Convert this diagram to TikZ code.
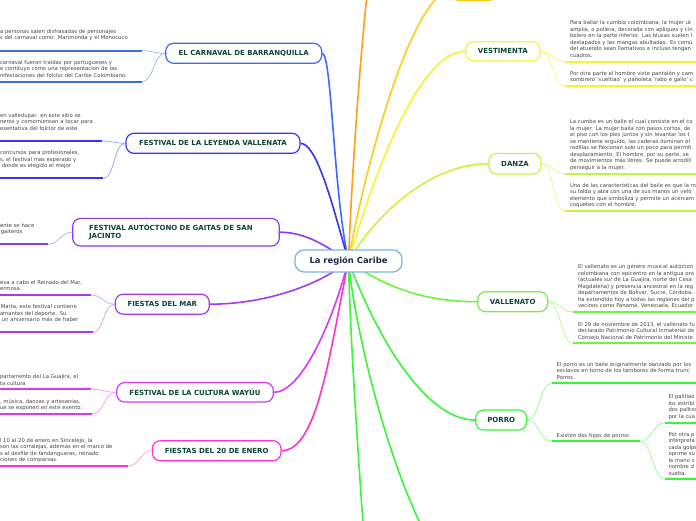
\documentclass[tikz,border=0pt]{standalone}
\usepackage{fontspec}
\setmainfont{DejaVu Sans}
\usetikzlibrary{backgrounds}
\definecolor{cCarn}{HTML}{3B6CF5}
\definecolor{cLey}{HTML}{3535F5}
\definecolor{cGai}{HTML}{8A3BF5}
\definecolor{cMar}{HTML}{A43BF2}
\definecolor{cWay}{HTML}{D53BF5}
\definecolor{cEne}{HTML}{FF33CC}
\definecolor{cOra}{HTML}{FF9F1A}
\definecolor{cGold}{HTML}{FFCC1A}
\definecolor{cVes}{HTML}{F5F52E}
\definecolor{cDan}{HTML}{C8F53B}
\definecolor{cVal}{HTML}{6EF53B}
\definecolor{cPor}{HTML}{3BF53B}
\definecolor{cRoot}{HTML}{78B4E2}
\definecolor{lbl}{HTML}{0D4536}
\definecolor{rootTxt}{HTML}{1A2B4C}
\definecolor{txt}{HTML}{444444}
\newcommand\myl[1]{\mbox{#1}}
\begin{document}
\begin{tikzpicture}[x=1pt,y=-1pt,
  topic/.style={draw, line width=1.2pt, fill=white, rounded corners=8pt, inner sep=0pt, text=lbl,
    font=\fontsize{7}{7.7}\selectfont\bfseries},
  rootst/.style={draw=cRoot, line width=1.2pt, fill=white, rounded corners=9pt, inner sep=0pt,
    minimum width=107pt, minimum height=22pt, text=rootTxt, font=\fontsize{8.4}{9}\selectfont\bfseries},
  leaf/.style={inner xsep=5pt, inner ysep=2.3pt, outer sep=0pt, text width=#1, align=left, text=txt,
    font=\fontsize{5.3}{6.5}\selectfont},
  ul/.style={line width=1.8pt},
  br/.style={line width=1.6pt},
  tw/.style={line width=0.7pt}]
\useasboundingbox (0,0) rectangle (696,520);

% central and main topics
\node[rootst] (root) at (348.5,261) {La región Caribe};
\node[topic, draw=cCarn, minimum width=156pt, minimum height=20pt] (carn) at (243.7,53.3) {EL CARNAVAL DE BARRANQUILLA};
\node[topic, draw=cLey, minimum width=174pt, minimum height=20pt] (ley) at (213,143.3) {FESTIVAL DE LA LEYENDA VALLENATA};
\node[topic, draw=cGai, minimum height=27.7pt, text width=174pt, inner xsep=16.3pt, align=left] (gai) at (176,232.2) {FESTIVAL AUTÓCTONO DE GAITAS DE SAN\\JACINTO};
\node[topic, draw=cMar, minimum width=94pt, minimum height=20pt] (mar) at (162.3,304.2) {FIESTAS DEL MAR};
\node[topic, draw=cWay, minimum width=156.6pt, minimum height=19.5pt] (way) at (195,392.3) {FESTIVAL DE LA CULTURA WAYÚU};
\node[topic, draw=cEne, minimum width=128.7pt, minimum height=20pt] (ene) at (216.7,450.7) {FIESTAS DEL 20 DE ENERO};
\node[topic, draw=cGold, minimum width=45.7pt, minimum height=20pt] (topn) at (474,-9.5) {};
\node[topic, draw=cVes, minimum width=74.3pt, minimum height=19.3pt] (ves) at (502.8,51.3) {VESTIMENTA};
\node[topic, draw=cDan, minimum width=52pt, minimum height=20.7pt] (dan) at (515,163.7) {DANZA};
\node[topic, draw=cVal, minimum width=70pt, minimum height=20pt] (val) at (512.7,301.7) {VALLENATO};
\node[topic, draw=cPor, minimum width=51pt, minimum height=20pt] (por) at (501.2,420) {PORRO};
\coordinate (o1) at (367,-5);
\coordinate (gb1) at (363,523);
\coordinate (gb2) at (420,523);

% left leaves
\node[leaf=136.7pt, anchor=south east] (k1) at (141.7,50.7) {\myl{a personas salen disfrasadas de personajes}\\\myl{s del carnaval como: Marimonda y el Monocuco}\\\strut};
\node[leaf=137pt, anchor=south east] (k2) at (142,81.7) {\myl{carnaval fueron traidas por portugueses y}\\\myl{e contituyo como una representacion de las}\\\myl{nifestaciones del folclor del Caribe Colombiano.}\strut};
\node[leaf=96.7pt, anchor=south east] (l1) at (101.7,141) {\myl{en valledupar. en este sitio se}\\\myl{neros y comomiensan a tocar para}\\\myl{esentativa del folclor de este}\\\strut};
\node[leaf=98pt, anchor=south east] (l2) at (103,178.3) {\myl{concursos para profesionales,}\\\myl{s, el festival mas esperado y}\\\myl{\ donde es elegido el mejor}\\\strut};
\node[leaf=43pt, anchor=south east] (g1) at (48,244.3) {\myl{ente se hace}\\\myl{\,gaiteros}\\\strut};
\node[leaf=85.7pt, anchor=south east] (m1) at (90.7,295) {\myl{eva a cabo el Reinado del Mar,}\\\myl{ermosa.}\strut};
\node[leaf=87.7pt, anchor=south east] (m2) at (92.7,332.3) {\myl{\,Marta, este festival contiene}\\\myl{amantes del deporte. Su}\\\myl{\ un aniversario más de haber}\\\strut};
\node[leaf=86pt, anchor=south east] (w1) at (91,389.3) {\myl{partamento del  La Guajira, el}\\\myl{ta cultura}\strut};
\node[leaf=87pt, anchor=south east] (w2) at (92,414) {\myl{, música, danzas y artesanías,}\\\myl{ue se exponen en este evento.}\strut};
\node[leaf=123.3pt, anchor=south east] (e1) at (128.3,466) {\myl{l 10 al 20 de enero en Sincelejo, la}\\\myl{son las corralejas, además en el marco de}\\\myl{s al desfile de fandangueras, reinado}\\\myl{ciones de comparsas.}\strut};

% right leaves
\node[leaf=200pt, anchor=south west] (v1) at (565,61.7) {\myl{Para bailar la cumbia colombiana, la mujer ut}\\\myl{amplia, o pollera, decorada con apliques y cin}\\\myl{bolero en la parte inferior. Las blusas suelen l}\\\myl{destapados y las mangas abultadas. Es comú}\\\myl{del atuendo sean llamativos e incluso tengan}\\\myl{cuadros.}\strut};
\node[leaf=200pt, anchor=south west] (v2) at (565,86) {\myl{Por otra parte el hombre viste pantalón y cam}\\\myl{sombrero 'vueltiao' y pañoleta 'rabo e gallo' c}\strut};
\node[leaf=200pt, anchor=south west] (d1) at (565,173.7) {\myl{La cumba es un baile el cual consiste en el co}\\\myl{la mujer. La mujer baila con pasos cortos, de}\\\myl{el piso con los pies juntos y sin levantar los t}\\\myl{se mantiene erguido, las caderas dominan el}\\\myl{rodillas se flexionan solo un poco para permit}\\\myl{desplazamiento. El hombre, por su parte, se}\\\myl{de movimientos más libres. Se puede arrodill}\\\myl{perseguir a la mujer.}\strut};
\node[leaf=200pt, anchor=south west] (d2) at (565,211) {\myl{Una de las características del baile es que la m}\\\myl{su falda y alza con una de sus manos un veló}\\\myl{elemento que simboliza y permite un acercam}\\\myl{coqueteo con el hombre.}\strut};
\node[leaf=200pt, anchor=south west] (a1) at (573,312) {\myl{El vallenato es un género musical autócton}\\\myl{colombiana con epicentro en la antigua pro}\\\myl{(actuales sur de La Guajira, norte del Cesa}\\\myl{Magdalena) y presencia ancestral en la reg}\\\myl{departamentos de Bolívar, Sucre, Córdoba.}\\\myl{ha extendido hoy a todas las regiones del p}\\\myl{vecinos como Panamá, Venezuela, Ecuador}\strut};
\node[leaf=200pt, anchor=south west] (a2) at (573,343.3) {\myl{El 29 de noviembre de 2013, el vallenato fu}\\\myl{declarado Patrimonio Cultural Inmaterial de}\\\myl{Consejo Nacional de Patrimonio del Ministe}\strut};
\node[leaf=200pt, anchor=south west] (p1) at (551.7,383.3) {\myl{El porro es un baile originalmente danzado por los}\\\myl{esclavos en torno de los tambores de forma trunc}\\\myl{Porros.}\strut};
\node[leaf=78.3pt, anchor=south west] (p2) at (551.7,441.3) {\myl{Existen dos tipos de porros}\strut};
\node[leaf=100pt, inner xsep=3.5pt, anchor=south west] (p3) at (665,422.7) {\myl{El palitiao}\\\myl{los estribi}\\\myl{dos palitos}\\\myl{por la cua}\strut};
\node[leaf=100pt, inner xsep=3.5pt, anchor=south west] (p4) at (665,479.3) {\myl{Por otra p}\\\myl{interpreta}\\\myl{cada golpe}\\\myl{oprime su}\\\myl{la mano s}\\\myl{nombre d}\\\myl{suelta.}\strut};

% underlines
\foreach \n/\c in {k1/cCarn,k2/cCarn,l1/cLey,l2/cLey,g1/cGai,m1/cMar,m2/cMar,w1/cWay,w2/cWay,e1/cEne,
  v1/cVes,v2/cVes,d1/cDan,d2/cDan,a1/cVal,a2/cVal,p1/cPor,p2/cPor,p3/cPor,p4/cPor}
  \draw[ul, \c] (\n.south west) -- (\n.south east);

\begin{scope}[on background layer]
% main branches
\draw[br, cCarn] (root.center) .. controls (333,190) and (332,55) .. (carn.east);
\draw[br, cLey] (root.center) .. controls (335,215) and (318,143.3) .. (ley.east);
\draw[br, cGai] (root.center) .. controls (325,245) and (305,232.2) .. (gai.east);
\draw[br, cMar] (root.center) .. controls (320,285) and (265,304.2) .. (mar.east);
\draw[br, cWay] (root.center) .. controls (330,330) and (300,392.3) .. (way.east);
\draw[br, cEne] (root.center) .. controls (330,350) and (318,450.7) .. (ene.east);
\draw[br, cOra] (root.center) .. controls (352,170) and (360,60) .. (o1);
\draw[br, cGold] (root.center) .. controls (362,180) and (410,-5) .. (topn.west);
\draw[br, cVes] (root.center) .. controls (375,170) and (420,51.3) .. (ves.west);
\draw[br, cDan] (root.center) .. controls (375,215) and (430,163.7) .. (dan.west);
\draw[br, cVal] (root.center) .. controls (395,295) and (440,301.7) .. (val.west);
\draw[br, cPor] (root.center) .. controls (370,320) and (420,420) .. (por.west);
\draw[br, cPor] (root.center) .. controls (350,330) and (357,440) .. (gb1);
\draw[br, cPor] (root.center) .. controls (355,330) and (385,450) .. (gb2);
% leaf connectors left
\draw[tw, cCarn!50] (k1.south east) .. controls +(12,0) and +(-12,0) .. (carn.west);
\draw[tw, cCarn!50] (k2.south east) .. controls +(12,0) and +(-12,0) .. (carn.west);
\draw[tw, cLey!50] (l1.south east) .. controls +(12,0) and +(-12,0) .. (ley.west);
\draw[tw, cLey!50] (l2.south east) .. controls +(12,0) and +(-12,0) .. (ley.west);
\draw[tw, cGai!50] (g1.south east) .. controls +(12,0) and +(-12,0) .. (gai.west);
\draw[tw, cMar!50] (m1.south east) .. controls +(12,0) and +(-12,0) .. (mar.west);
\draw[tw, cMar!50] (m2.south east) .. controls +(12,0) and +(-12,0) .. (mar.west);
\draw[tw, cWay!50] (w1.south east) .. controls +(12,0) and +(-12,0) .. (way.west);
\draw[tw, cWay!50] (w2.south east) .. controls +(12,0) and +(-12,0) .. (way.west);
\draw[tw, cEne!50] (e1.south east) .. controls +(12,0) and +(-12,0) .. (ene.west);
% leaf connectors right
\draw[tw, cVes!70] (ves.east) .. controls +(12,0) and +(-12,0) .. (v1.south west);
\draw[tw, cVes!70] (ves.east) .. controls +(12,0) and +(-12,0) .. (v2.south west);
\draw[tw, cDan!60] (dan.east) .. controls +(12,0) and +(-12,0) .. (d1.south west);
\draw[tw, cDan!60] (dan.east) .. controls +(12,0) and +(-12,0) .. (d2.south west);
\draw[tw, cVal!55] (val.east) .. controls +(12,0) and +(-12,0) .. (a1.south west);
\draw[tw, cVal!55] (val.east) .. controls +(12,0) and +(-12,0) .. (a2.south west);
\draw[tw, cPor!55] (por.east) .. controls +(12,0) and +(-12,0) .. (p1.south west);
\draw[tw, cPor!55] (por.east) .. controls +(12,0) and +(-12,0) .. (p2.south west);
\draw[tw, cPor!55] (p2.south east) .. controls +(12,0) and +(-12,0) .. (p3.south west);
\draw[tw, cPor!55] (p2.south east) .. controls +(12,0) and +(-12,0) .. (p4.south west);
\end{scope}
\end{tikzpicture}
\end{document}
